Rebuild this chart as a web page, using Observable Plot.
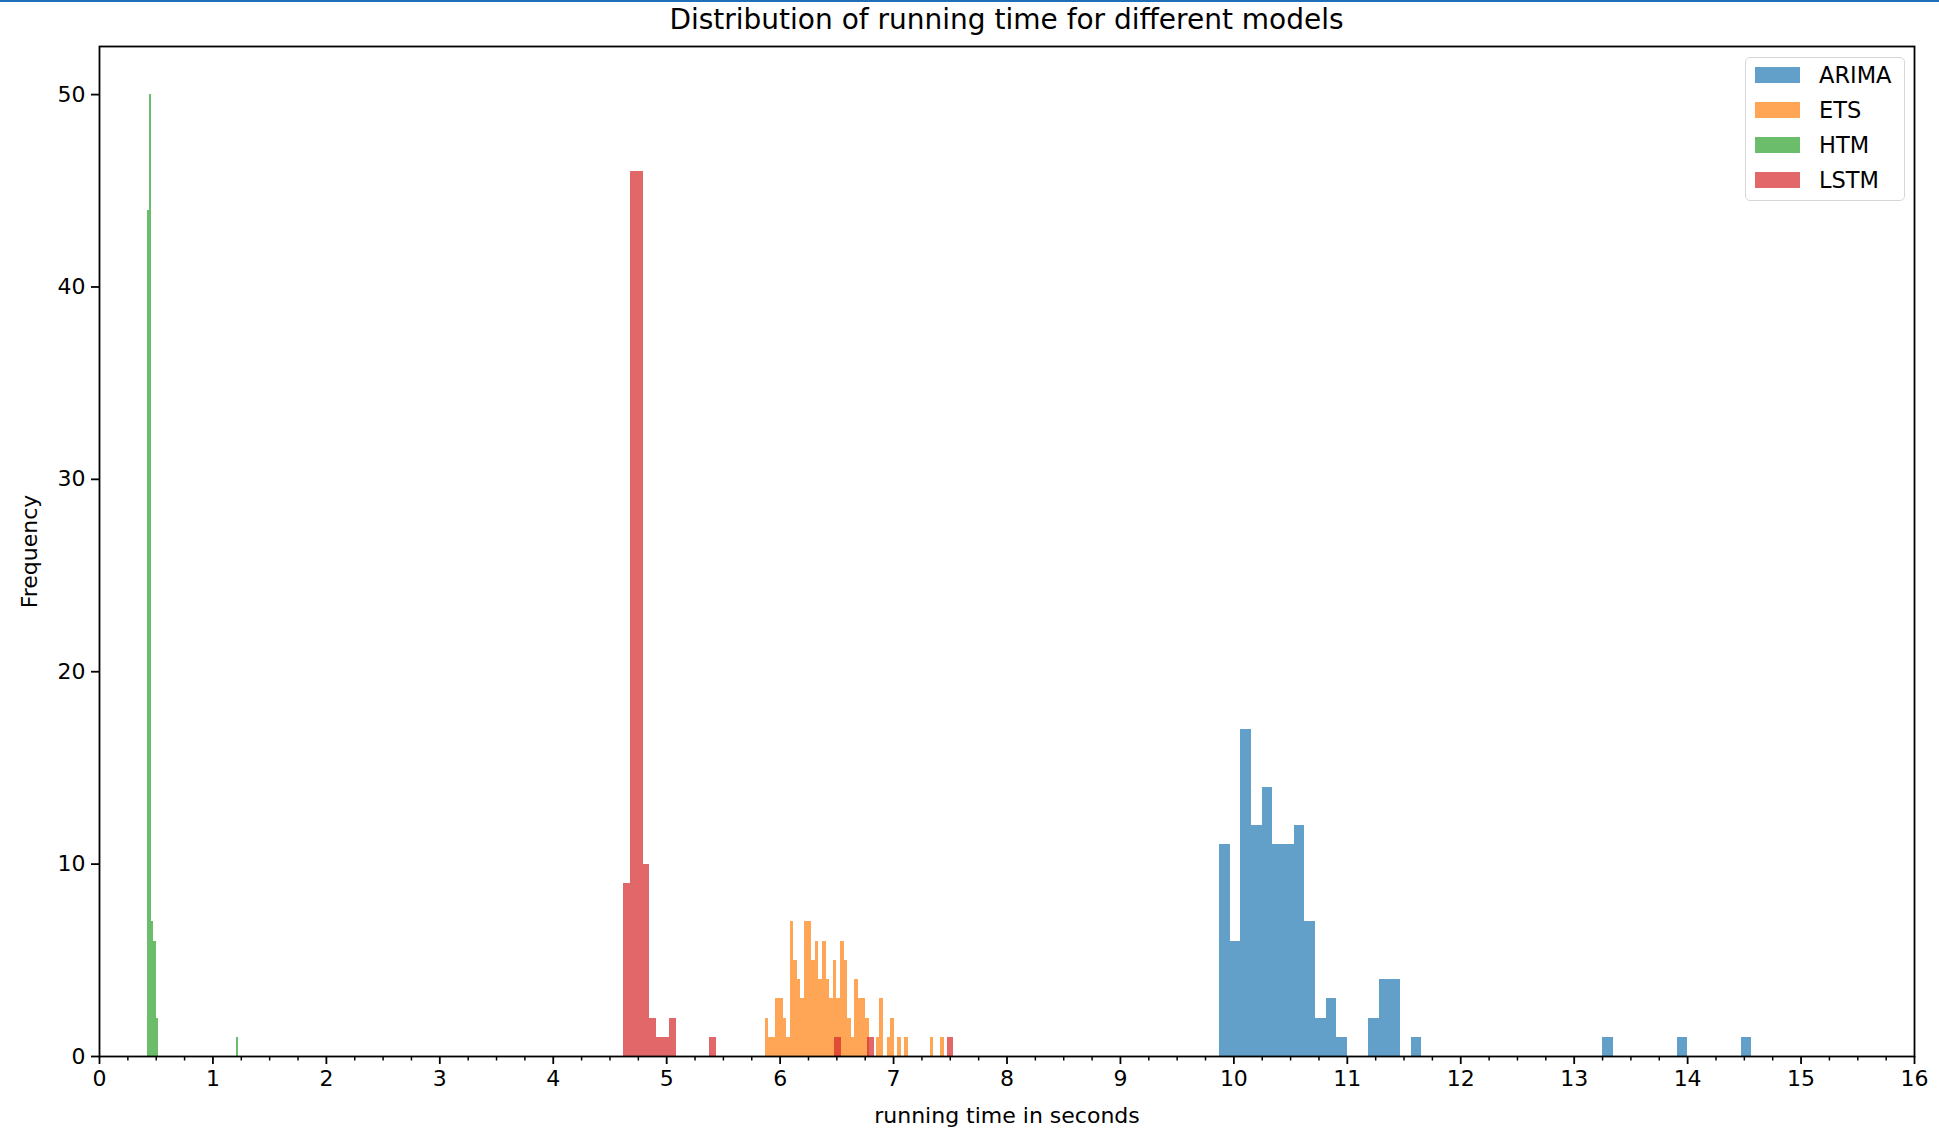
<!DOCTYPE html>
<html>
<head>
<meta charset="utf-8">
<script src="https://cdn.jsdelivr.net/npm/d3@7"></script>
<script src="https://cdn.jsdelivr.net/npm/@observablehq/plot@0.6"></script>
<style>
  body { margin: 0; background: #fff; font-family: "DejaVu Sans", sans-serif; }
  #wrap { position: relative; width: 1939px; height: 1128px; overflow: hidden; }
  #topline { position: absolute; left: 0; top: 0; width: 1939px; height: 2px; background: #1f6fb8; }
  #title { position: absolute; left: 99px; width: 1815px; top: 3px; text-align: center;
           font-size: 28px; color: #000; white-space: nowrap; }
  #legend { position: absolute; left: 1745px; top: 57px; width: 160px; height: 144px;
            box-sizing: border-box; border: 1.5px solid #d6d6d6; border-radius: 5px;
            background: rgba(255,255,255,0.8); }
  .item { position: absolute; left: 9px; height: 30px; display: flex; align-items: center; }
  .swatch { width: 45px; height: 16px; margin-right: 19px; }
  .lab { font-size: 22.5px; color: #000; }
</style>
</head>
<body>
<div id="wrap">
  <div id="topline"></div>
  <div id="chart"></div>
  <div id="title">Distribution of running time for different models</div>
  <div id="legend"></div>
</div>
<script>
// ---- data ----
const models = ["ARIMA", "ETS", "HTM", "LSTM"];
const modelColors = ["#1f77b4", "#ff7f0e", "#2ca02c", "#d62728"];

// ARIMA histogram: first bin edge, bin width, counts per bin
const arimaStart = 9.875;
const arimaWidth = 0.0938;
const arimaCounts = [11, 6, 17, 12, 14, 11, 11, 12, 7, 2,
                     3, 1, 0, 0, 2, 4, 4, 0, 1, 0,
                     0, 0, 0, 0, 0, 0, 0, 0, 0, 0,
                     0, 0, 0, 0, 0, 0, 1, 0, 0, 0,
                     0, 0, 0, 1, 0, 0, 0, 0, 0, 1];

// ETS histogram
const etsStart = 5.868;
const etsWidth = 0.0316;
const etsCounts = [2, 1, 1, 3, 3, 2, 1, 7, 5, 4,
                   3, 7, 7, 5, 6, 4, 6, 4, 3, 5,
                   3, 6, 5, 2, 1, 4, 3, 3, 2, 0,
                   0, 1, 3, 0, 1, 2, 0, 1, 0, 1,
                   0, 0, 0, 0, 0, 0, 1, 0, 0, 1];

// HTM histogram
const htmStart = 0.421;
const htmWidth = 0.0196;
const htmCounts = [44, 50, 7, 6, 2, 0, 0, 0, 0, 0,
                   0, 0, 0, 0, 0, 0, 0, 0, 0, 0,
                   0, 0, 0, 0, 0, 0, 0, 0, 0, 0,
                   0, 0, 0, 0, 0, 0, 0, 0, 0, 0, 1];

// LSTM histogram
const lstmStart = 4.620;
const lstmWidth = 0.0582;
const lstmCounts = [9, 46, 46, 10, 2, 1, 1, 2, 0, 0,
                    0, 0, 0, 1, 0, 0, 0, 0, 0, 0,
                    0, 0, 0, 0, 0, 0, 0, 0, 0, 0,
                    0, 0, 1, 0, 0, 0, 0, 1, 0, 0,
                    0, 0, 0, 0, 0, 0, 0, 0, 0, 1];

const xTicks = [0, 1, 2, 3, 4, 5, 6, 7, 8, 9, 10, 11, 12, 13, 14, 15, 16];
const yTicks = [0, 10, 20, 30, 40, 50];

// ---- build bin table ----
const series = [
  [models[0], arimaStart, arimaWidth, arimaCounts],
  [models[1], etsStart, etsWidth, etsCounts],
  [models[2], htmStart, htmWidth, htmCounts],
  [models[3], lstmStart, lstmWidth, lstmCounts]
];
const bins = [];
for (const [model, start, w, counts] of series) {
  counts.forEach((c, i) => {
    if (c > 0) bins.push({model, x1: start + i * w, x2: start + (i + 1) * w, count: c});
  });
}
const minorTicks = d3.range(0, 16.001, 0.25).filter(t => !xTicks.includes(t));

const chart = Plot.plot({
  width: 1939,
  height: 1128,
  marginLeft: 99,
  marginRight: 25,
  marginTop: 46,
  marginBottom: 72,
  style: {fontFamily: "DejaVu Sans, sans-serif", fontSize: "22px", color: "#000", background: "#fff"},
  x: {domain: [0, 16]},
  y: {domain: [0, 52.5]},
  color: {domain: models, range: modelColors},
  marks: [
    Plot.rectY(bins, {x1: "x1", x2: "x2", y: "count", fill: "model", fillOpacity: 0.7, inset: 0,
                      shapeRendering: "crispEdges"}),
    Plot.axisX({ticks: xTicks, tickSize: 8, tickPadding: 6, strokeWidth: 1.8, tickFormat: d => d,
                label: "running time in seconds", labelAnchor: "center", labelArrow: "none", labelOffset: 66,
                fontSize: 22}),
    Plot.axisX({ticks: minorTicks, tickSize: 4.5, strokeWidth: 1.5, text: null, label: null}),
    Plot.axisY({ticks: yTicks, tickSize: 8, tickPadding: 6, strokeWidth: 1.8, tickFormat: d => d,
                label: "Frequency", labelAnchor: "center", labelArrow: "none", labelOffset: 78}),
    Plot.frame({stroke: "#000", strokeWidth: 1.8})
  ]
});
document.getElementById("chart").appendChild(chart);

// ---- legend ----
const legend = document.getElementById("legend");
models.forEach((m, i) => {
  const item = document.createElement("div");
  item.className = "item";
  item.style.top = (2 + i * 35) + "px";
  const sw = document.createElement("div");
  sw.className = "swatch";
  sw.style.background = modelColors[i];
  sw.style.opacity = 0.7;
  const lab = document.createElement("span");
  lab.className = "lab";
  lab.textContent = m;
  item.appendChild(sw);
  item.appendChild(lab);
  legend.appendChild(item);
});
</script>
</body>
</html>
